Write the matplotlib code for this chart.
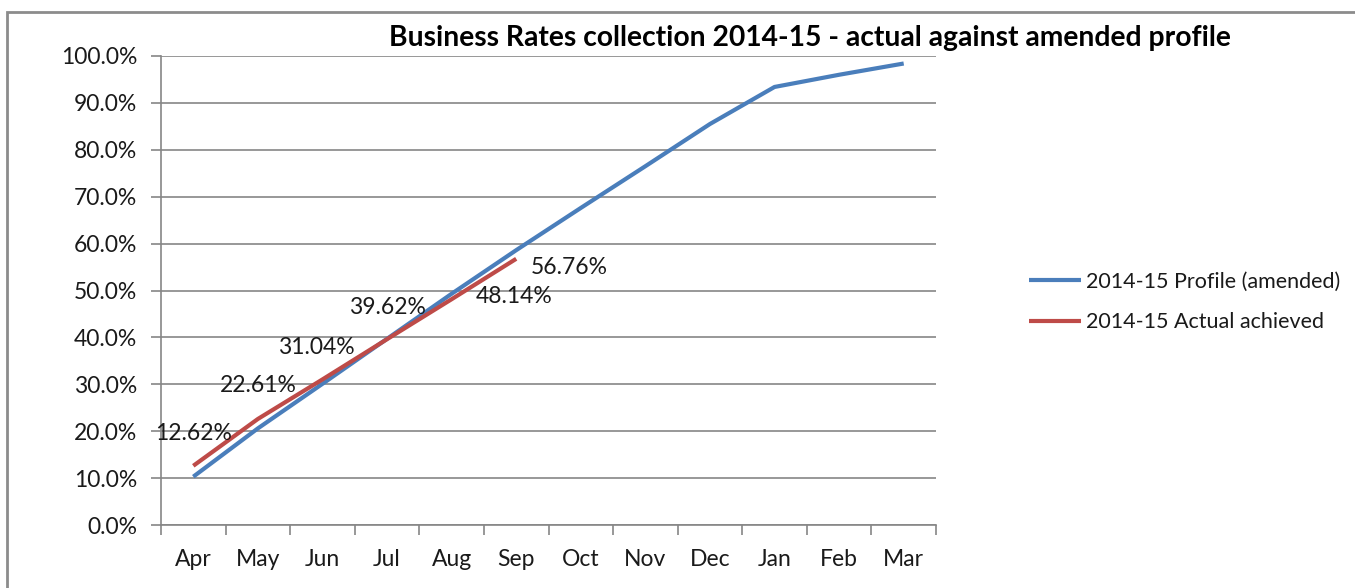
import matplotlib
matplotlib.use('Agg')
import matplotlib.pyplot as plt
from matplotlib.patches import Rectangle

months = ['Apr', 'May', 'Jun', 'Jul', 'Aug', 'Sep', 'Oct', 'Nov', 'Dec', 'Jan', 'Feb', 'Mar']
profile = [10.3, 20.6, 30.1, 39.7, 49.3, 58.6, 67.6, 76.5, 85.5, 93.4, 96.0, 98.4]
actual = [12.62, 22.61, 31.04, 39.62, 48.14, 56.76]
actual_labels = ['12.62%', '22.61%', '31.04%', '39.62%', '48.14%', '56.76%']

plt.rcParams['font.family'] = ['Lato', 'DejaVu Sans']

W, H = 1355, 588
fig = plt.figure(figsize=(W / 100, H / 100), dpi=100)
# chart frame (runs off the right/bottom edge as in the screenshot)
fig.patches.append(Rectangle((7 / W, -0.1), 1.2, 1 - 12 / H + 0.1, transform=fig.transFigure,
                             fill=False, edgecolor='#8c8c8c', linewidth=2))

ax = fig.add_axes([161 / W, 1 - 525 / H, (936 - 161) / W, (525 - 56) / H])
x = list(range(len(months)))
ax.plot(x, profile, color='#4a7ebb', linewidth=3, solid_capstyle='butt', label='2014-15 Profile (amended)')
ax.plot(x[:len(actual)], actual, color='#be4b48', linewidth=3, solid_capstyle='butt', label='2014-15 Actual achieved')

grey = '#868686'
# label placement in pixels: first four above the point, last two to the right
offsets = [(0, 32), (0, 33), (-6, 32), (0, 32), (24, 3), (15, -9)]
for i, (v, t) in enumerate(zip(actual, actual_labels)):
    dx, dy = offsets[i]
    ha = 'center' if dx <= 0 else 'left'
    ax.annotate(t, (i, v), xytext=(dx * 0.72, dy * 0.72), textcoords='offset points', ha=ha, va='center',
                fontsize=16.5, color='#1a1a1a')

ax.set_xlim(-0.5, 11.5)
ax.set_ylim(0, 100)
ax.set_yticks(range(0, 101, 10))
ax.set_yticklabels(['%.1f%%' % v for v in range(0, 101, 10)])
ax.set_xticks(x)
ax.set_xticklabels(months)
ax.set_xticks([i - 0.5 for i in range(13)], minor=True)
ax.tick_params(axis='x', which='major', length=0, pad=17, labelsize=16.5, labelcolor='#1a1a1a')
ax.tick_params(axis='x', which='minor', length=7, color=grey, width=1.2, direction='out')
ax.tick_params(axis='y', length=7, color=grey, width=1.2, labelsize=16.5, labelcolor='#1a1a1a', pad=10)
ax.grid(axis='y', color=grey, linewidth=1.2)
ax.set_axisbelow(True)
for s in ['top', 'right']:
    ax.spines[s].set_visible(False)
for s in ['left', 'bottom']:
    ax.spines[s].set_color(grey)
    ax.spines[s].set_linewidth(1.2)

fig.text(810 / W, 1 - 38 / H, 'Business Rates collection 2014-15 - actual against amended profile',
         ha='center', va='center', fontsize=20.3, fontweight='bold', color='#000000')

fig.legend(loc='center left', bbox_to_anchor=(1010 / W, 1 - 302 / H), frameon=False,
           fontsize=15.5, handlelength=2.4, handletextpad=0.25, labelspacing=0.95, labelcolor='#1a1a1a')

fig.savefig('out.png', dpi=100)
